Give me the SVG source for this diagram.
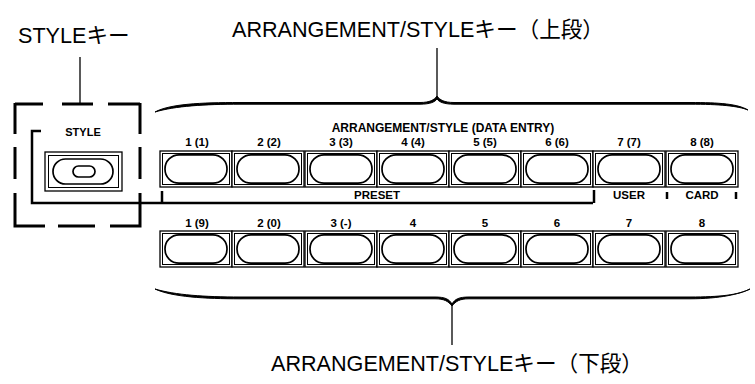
<svg xmlns="http://www.w3.org/2000/svg" width="755" height="384" viewBox="0 0 755 384">
<style>
.big{font-family:"Liberation Sans","Noto Sans CJK JP",sans-serif;font-size:21.6px;fill:#000}
.sm{font-family:"Liberation Sans",sans-serif;font-size:11.5px;font-weight:bold;fill:#000;text-anchor:middle}
.cell{fill:#fff;stroke:#000;stroke-width:1.3}
.inner{fill:none;stroke:#000;stroke-width:1}
.pill{fill:#fff;stroke:#000;stroke-width:1.7}
.ln{fill:none;stroke:#000;stroke-width:2.5}
.thin{fill:none;stroke:#000;stroke-width:1.3}
.dash{fill:none;stroke:#000;stroke-width:3}
.brace{fill:#000;stroke:#000;stroke-width:1}
</style>
<defs>
<g id="key">
<rect class="cell" x="0" y="0" width="72" height="36"/>
<rect class="inner" x="2.5" y="2.5" width="67" height="31"/>
<rect class="pill" x="5" y="3.8" width="62" height="28.4" rx="14" ry="14"/>
</g>
</defs>

<g id="labels">
<text class="big" x="18" y="43">STYLEキー</text>
<text class="big" x="232" y="37">ARRANGEMENT/STYLEキー（上段）</text>
<text class="big" x="271" y="371">ARRANGEMENT/STYLEキー（下段）</text>
</g>

<g id="connectors">
<line class="thin" x1="80" y1="57" x2="80" y2="104"/>
<line class="thin" x1="437" y1="48" x2="437" y2="97"/>
<line class="thin" x1="452" y1="303" x2="452" y2="345"/>
<path class="brace" d="M155,112 C170,104 200,102.5 240,102.5 L420,102.5 C430,102.5 434,100 437,96 C440,100 444,102.5 454,102.5 L690,102.5 C720,102.5 738,104 748,110 C738,106 720,104.2 690,104.2 L454,104.2 C444,104.2 439,102 437,99 C435,102 430,104.2 420,104.2 L240,104.2 C205,104.2 175,106 155,112 Z"/>
<path class="brace" d="M155,289 C175,295 205,297 240,297 L435,297 C445,297 449,299 452,304 C455,299 459,297 469,297 L690,297 C720,297 738,295 750,289 C740,294 720,298.8 690,298.8 L469,298.8 C460,298.8 456,301 452,306 C448,301 444,298.8 435,298.8 L240,298.8 C205,298.8 172,297 155,289 Z"/>
</g>

<g id="style-box">
<path class="dash" d="M15,104 H43 M62,104 H93 M108,104 H140"/>
<path class="dash" d="M15,103 V134 M15,147 V179 M15,193 V226 H45 M58,226 H95 M110,226 H140 V193 M140,179 V147 M140,134 V103"/>
<path class="ln" d="M41,131 H32 V203 H593"/>
<line class="ln" x1="162" y1="191" x2="162" y2="203"/>
<text class="sm" x="83" y="136" style="font-size:11px">STYLE</text>
<rect class="cell" x="45" y="152" width="77" height="39"/>
<rect class="inner" x="48.5" y="155.5" width="70" height="32"/>
<rect class="pill" x="53" y="159" width="60" height="25" rx="12.5"/>
<rect class="pill" x="73" y="166" width="22" height="11" rx="5.5"/>
</g>

<g id="upper-row">
<text class="sm" x="443" y="132" style="font-size:12px">ARRANGEMENT/STYLE (DATA ENTRY)</text>
<g id="u1"><use href="#key" x="160" y="151"/><text class="sm" x="197" y="146">1 (1)</text></g>
<g id="u2"><use href="#key" x="232" y="151"/><text class="sm" x="269" y="146">2 (2)</text></g>
<g id="u3"><use href="#key" x="305" y="151"/><text class="sm" x="341" y="146">3 (3)</text></g>
<g id="u4"><use href="#key" x="377" y="151"/><text class="sm" x="413" y="146">4 (4)</text></g>
<g id="u5"><use href="#key" x="449" y="151"/><text class="sm" x="485" y="146">5 (5)</text></g>
<g id="u6"><use href="#key" x="521" y="151"/><text class="sm" x="557" y="146">6 (6)</text></g>
<g id="u7"><use href="#key" x="593" y="151"/><text class="sm" x="629" y="146">7 (7)</text></g>
<g id="u8"><use href="#key" x="666" y="151"/><text class="sm" x="702" y="146">8 (8)</text></g>
<text class="sm" x="377" y="199">PRESET</text>
<line class="ln" x1="594" y1="190" x2="594" y2="203"/>
<text class="sm" x="629" y="199">USER</text>
<line class="ln" x1="667" y1="192" x2="667" y2="199"/>
<text class="sm" x="702" y="199">CARD</text>
<line class="ln" x1="736" y1="192" x2="736" y2="199"/>
</g>

<g id="lower-row">
<g id="l1"><use href="#key" x="160" y="231"/><text class="sm" x="197" y="227">1 (9)</text></g>
<g id="l2"><use href="#key" x="232" y="231"/><text class="sm" x="269" y="227">2 (0)</text></g>
<g id="l3"><use href="#key" x="305" y="231"/><text class="sm" x="341" y="227">3 (-)</text></g>
<g id="l4"><use href="#key" x="377" y="231"/><text class="sm" x="413" y="227">4</text></g>
<g id="l5"><use href="#key" x="449" y="231"/><text class="sm" x="485" y="227">5</text></g>
<g id="l6"><use href="#key" x="521" y="231"/><text class="sm" x="557" y="227">6</text></g>
<g id="l7"><use href="#key" x="593" y="231"/><text class="sm" x="629" y="227">7</text></g>
<g id="l8"><use href="#key" x="666" y="231"/><text class="sm" x="702" y="227">8</text></g>
</g>
</svg>
